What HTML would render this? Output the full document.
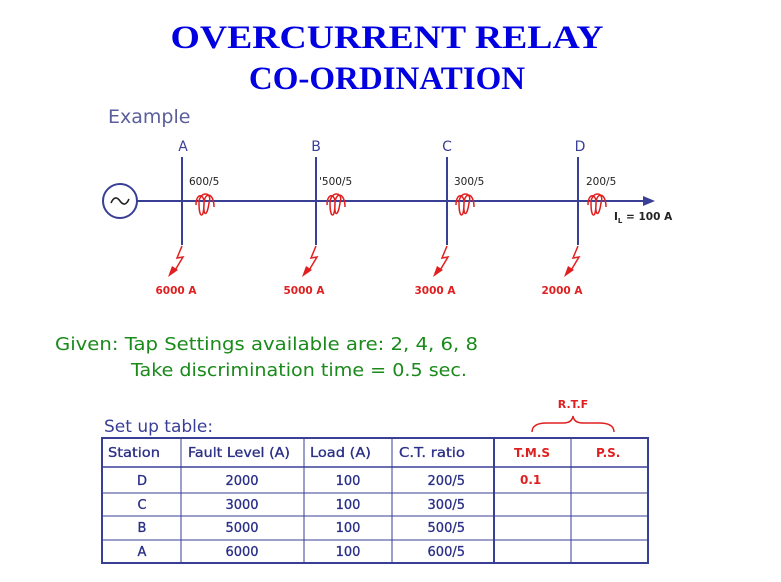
<!DOCTYPE html>
<html><head><meta charset="utf-8"><style>
html,body{margin:0;padding:0;background:#fff;width:781px;height:582px;overflow:hidden}
svg{display:block}
</style></head><body>
<svg width="781" height="582" viewBox="0 0 781 582" xmlns="http://www.w3.org/2000/svg">
<g font-family="Liberation Serif, serif" font-weight="bold" font-size="33" fill="#0000e0" text-anchor="middle">
<text x="387" y="48" textLength="433" lengthAdjust="spacingAndGlyphs">OVERCURRENT RELAY</text>
<text x="387" y="89">CO-ORDINATION</text>
</g>
<text x="108" y="123" font-family="DejaVu Sans, sans-serif" font-size="19" fill="#5a5e9a">Example</text>
<g stroke="#3a3f96" stroke-width="2" fill="none">
<circle cx="120" cy="201" r="17"/>
<path d="M111 203 q4 -9 9 -2 q5 7 9 -2" stroke="#222" stroke-width="1.6"/>
<line x1="137" y1="201" x2="645" y2="201"/>
<line x1="182" y1="157" x2="182" y2="245"/>
<line x1="316" y1="157" x2="316" y2="245"/>
<line x1="447" y1="157" x2="447" y2="245"/>
<line x1="578" y1="157" x2="578" y2="245"/>
</g>
<polygon points="643,196 655,201 643,206" fill="#3a3f96"/>
<g font-family="DejaVu Sans, sans-serif" font-size="14" fill="#3a3f96" text-anchor="middle">
<text x="183" y="151">A</text><text x="316" y="151">B</text><text x="447" y="151">C</text><text x="580" y="151">D</text>
</g>
<g font-family="DejaVu Sans, sans-serif" font-size="10.5" fill="#222">
<text x="189" y="185">600/5</text><text x="319" y="185">'500/5</text><text x="454" y="185">300/5</text><text x="586" y="185">200/5</text>
<text x="614" y="220" font-weight="bold">I<tspan font-size="7" dy="3">L</tspan><tspan dy="-3"> = 100 A</tspan></text>
</g>
<g stroke="#e02020" stroke-width="1.5" fill="none">
<g id="coil"><path d="M196 205 c0 -12 8 -12 8 -2 c0 16 -5 16 -5 0 c0 -12 14 -12 10 0 c-2 14 -6 14 -5 0 c1 -12 10 -10 10 4"/></g>
<use href="#coil" x="131"/><use href="#coil" x="260"/><use href="#coil" x="392"/>
<g id="bolt"><path d="M182 246 l-5 12 l6 -1 l-9 15"/></g>
<use href="#bolt" x="134"/><use href="#bolt" x="265"/><use href="#bolt" x="396"/>
</g>
<g fill="#e02020">
<polygon id="ah" points="168,277 178,270 172,266"/>
<use href="#ah" x="134"/><use href="#ah" x="265"/><use href="#ah" x="396"/>
</g>
<g font-family="DejaVu Sans, sans-serif" font-size="10.5" font-weight="bold" fill="#e02020" text-anchor="middle">
<text x="176" y="294">6000 A</text><text x="304" y="294">5000 A</text><text x="435" y="294">3000 A</text><text x="562" y="294">2000 A</text>
</g>
<g font-family="DejaVu Sans, sans-serif" font-size="18" fill="#1a8a1a">
<text x="55" y="350" textLength="423" lengthAdjust="spacingAndGlyphs">Given:  Tap Settings available are: 2, 4, 6, 8</text>
<text x="131" y="376" textLength="336" lengthAdjust="spacingAndGlyphs">Take discrimination time = 0.5 sec.</text>
</g>
<text x="573" y="408" font-family="DejaVu Sans, sans-serif" font-size="11" font-weight="bold" fill="#e02020" text-anchor="middle">R.T.F</text>
<path d="M532 432 q0 -9 15 -9 h16 q9 0 10 -7 q1 7 10 7 h16 q15 0 15 9" stroke="#e02020" stroke-width="1.5" fill="none"/>
<text x="104" y="432" font-family="DejaVu Sans, sans-serif" font-size="17" fill="#3a3f96">Set up table:</text>
<g stroke="#3a3f96" fill="none">
<rect x="102" y="438" width="546" height="125" stroke-width="2"/>
<line x1="181" y1="438" x2="181" y2="563" stroke-width="1"/>
<line x1="304" y1="438" x2="304" y2="563" stroke-width="1"/>
<line x1="392" y1="438" x2="392" y2="563" stroke-width="1"/>
<line x1="494" y1="438" x2="494" y2="563" stroke-width="2"/>
<line x1="571" y1="438" x2="571" y2="563" stroke-width="1"/>
<line x1="102" y1="467" x2="648" y2="467" stroke-width="1.5"/>
<line x1="102" y1="493" x2="648" y2="493" stroke-width="1"/>
<line x1="102" y1="516" x2="648" y2="516" stroke-width="1"/>
<line x1="102" y1="540" x2="648" y2="540" stroke-width="1"/>
</g>
<g font-family="DejaVu Sans, sans-serif" font-size="13" fill="#2a2f86" stroke="#2a2f86" stroke-width="0.3">
<text x="108" y="457" textLength="52" lengthAdjust="spacingAndGlyphs">Station</text><text x="188" y="457" textLength="102" lengthAdjust="spacingAndGlyphs">Fault Level (A)</text><text x="310" y="457" textLength="61" lengthAdjust="spacingAndGlyphs">Load (A)</text><text x="399" y="457" textLength="66" lengthAdjust="spacingAndGlyphs">C.T. ratio</text>
<g text-anchor="middle">
<text x="142" y="485">D</text><text x="142" y="509">C</text><text x="142" y="532">B</text><text x="142" y="556">A</text>
<text x="242" y="485">2000</text><text x="242" y="509">3000</text><text x="242" y="532">5000</text><text x="242" y="556">6000</text>
<text x="348" y="485">100</text><text x="348" y="509">100</text><text x="348" y="532">100</text><text x="348" y="556">100</text>
</g>
<g text-anchor="end">
<text x="465" y="485">200/5</text><text x="465" y="509">300/5</text><text x="465" y="532">500/5</text><text x="465" y="556">600/5</text>
</g>
</g>
<g font-family="DejaVu Sans, sans-serif" font-size="12" font-weight="bold" fill="#e02020">
<text x="514" y="457">T.M.S</text><text x="596" y="457">P.S.</text><text x="520" y="484">0.1</text>
</g>
</svg>
</body></html>
